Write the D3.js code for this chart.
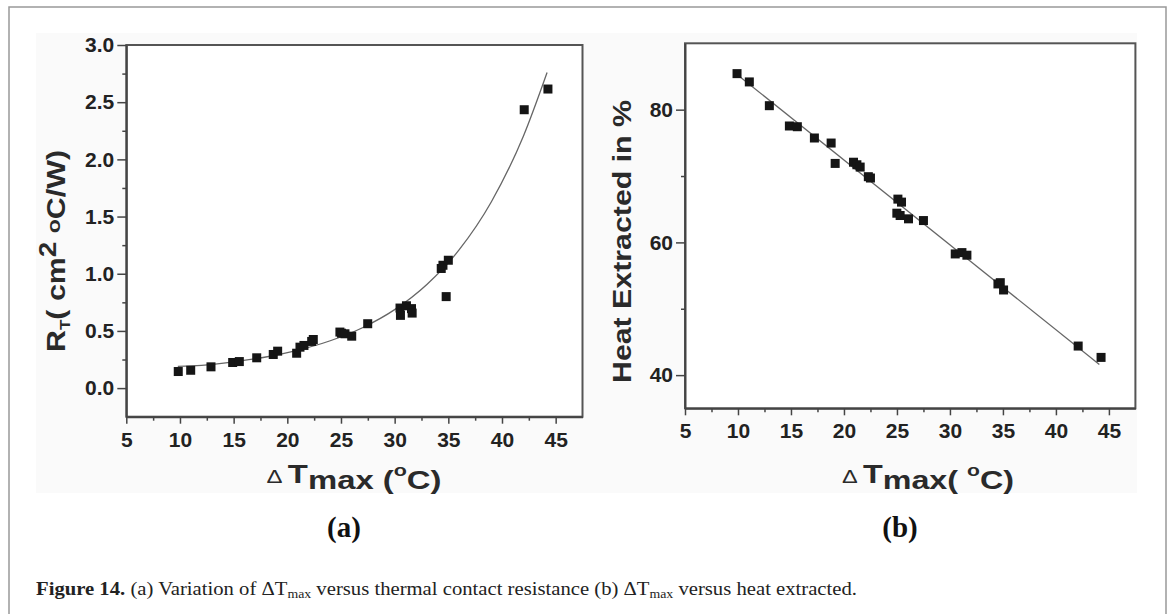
<!DOCTYPE html>
<html>
<head>
<meta charset="utf-8">
<script src="https://cdn.jsdelivr.net/npm/d3@7"></script>
<style>
  body { margin: 0; background: #fff; }
  svg { display: block; }
  .tick text { font-family: "Liberation Sans", Arial, sans-serif; font-weight: bold; font-size: 21px; fill: #222; }
  .domain { stroke: #444; stroke-width: 2; }
  .tick line { stroke: #444; stroke-width: 1.5; }
</style>
</head>
<body>
<svg width="1171" height="614"></svg>
<script>
// (a) thermal contact resistance vs dT max
const dtA = [9.84, 11.0, 12.89, 14.91, 15.53, 17.15, 18.69, 19.1, 20.87, 21.18, 21.55, 22.27, 22.42,
             24.9, 25.05, 25.37, 26.0, 27.49, 30.5, 30.54, 31.1, 31.57, 31.63, 34.34, 34.5, 34.8, 35.0, 42.07, 44.28];
const rtA = [0.145, 0.156, 0.186, 0.224, 0.232, 0.265, 0.294, 0.323, 0.305, 0.358, 0.373, 0.408, 0.425,
             0.49, 0.48, 0.475, 0.454, 0.563, 0.70, 0.636, 0.72, 0.695, 0.656, 1.046, 1.074, 0.80, 1.118, 2.434, 2.615];
// fitted curve
const fitAx = [9.8, 12, 15, 18, 21, 24, 27, 30, 33, 36, 39, 42, 44.2];
const fitAy = [0.19, 0.198, 0.229, 0.272, 0.332, 0.414, 0.528, 0.686, 0.906, 1.208, 1.627, 2.205, 2.76];

// (b) heat extracted vs dT max
const dtB = [9.91, 11.07, 12.96, 14.85, 15.6, 17.21, 18.79, 19.17, 20.9, 21.22, 21.53, 22.3, 22.5,
             25.09, 25.43, 24.99, 25.3, 26.09, 27.5, 30.5, 31.13, 31.6, 34.53, 34.75, 35.06, 42.1, 44.26];
const heatB = [85.43, 84.18, 80.6, 77.54, 77.43, 75.73, 74.97, 71.9, 72.08, 71.7, 71.35, 69.9, 69.7,
               66.52, 66.07, 64.4, 64.05, 63.55, 63.29, 58.26, 58.46, 58.07, 53.74, 53.93, 52.83, 44.38, 42.67];
const fitBx = [10.0, 44.1];
const fitBy = [85.2, 41.6];

const xTicks = [5, 10, 15, 20, 25, 30, 35, 40, 45];
const xMinor = [7.5, 12.5, 17.5, 22.5, 27.5, 32.5, 37.5, 42.5];
const yTicksA = [0, 0.5, 1.0, 1.5, 2.0, 2.5, 3.0];
const yMinorA = [0.25, 0.75, 1.25, 1.75, 2.25, 2.75];
const yTicksB = [40, 60, 80];
const yMinorB = [50, 70];

const svg = d3.select("svg");
const sans = "'Liberation Sans', Arial, sans-serif";
const serif = "'Liberation Serif', 'Times New Roman', serif";

// outer figure frame + scanned image background
svg.append("rect").attr("x", 9).attr("y", 7).attr("width", 1157).attr("height", 640)
    .attr("fill", "none").attr("stroke", "#999").attr("stroke-width", 1.5);
svg.append("rect").attr("x", 36).attr("y", 33).attr("width", 1101).attr("height", 460)
    .attr("fill", "#fafafa");

function panel(x, y, yt, ym, ytFmt) {
    const [x0, x1] = x.range();
    const [y0, y1] = y.range();
    const g = svg.append("g");
    g.append("rect").attr("x", x0).attr("y", y1).attr("width", x1 - x0).attr("height", y0 - y1)
        .attr("fill", "#fff").attr("stroke", "#555").attr("stroke-width", 2);

    g.append("g").attr("transform", `translate(0,${y0})`)
        .call(d3.axisBottom(x).tickValues(xMinor).tickSize(4).tickFormat(""))
        .call(a => a.select(".domain").remove());
    g.append("g").attr("transform", `translate(0,${y0})`)
        .call(d3.axisBottom(x).tickValues(xTicks).tickSize(7).tickPadding(8).tickSizeOuter(0));

    g.append("g").attr("transform", `translate(${x0},0)`)
        .call(d3.axisLeft(y).tickValues(ym).tickSize(4).tickFormat(""))
        .call(a => a.select(".domain").remove());
    g.append("g").attr("transform", `translate(${x0},0)`)
        .call(d3.axisLeft(y).tickValues(yt).tickSize(9).tickPadding(3).tickSizeOuter(0).tickFormat(ytFmt));
    return g;
}

function squares(g, x, y, xs, ys) {
    g.selectAll(".pt").data(xs.map((d, i) => [d, ys[i]])).enter()
        .append("rect").attr("class", "pt")
        .attr("x", d => x(d[0]) - 4.5).attr("y", d => y(d[1]) - 4.5)
        .attr("width", 9).attr("height", 9)
        .attr("fill", "#151515");
}

// ---- panel (a)
const xA = d3.scaleLinear().domain([5, 47.5]).range([126.3, 582.5]);
const yA = d3.scaleLinear().domain([-0.25, 3.0]).range([416.7, 45]);
const gA = panel(xA, yA, yTicksA, yMinorA, d3.format(".1f"));
gA.append("path")
    .datum(fitAx.map((d, i) => [d, fitAy[i]]))
    .attr("d", d3.line().x(d => xA(d[0])).y(d => yA(d[1])).curve(d3.curveMonotoneX))
    .attr("fill", "none").attr("stroke", "#666").attr("stroke-width", 1.3);
squares(gA, xA, yA, dtA, rtA);

// ---- panel (b)
const xB = d3.scaleLinear().domain([5, 47.5]).range([685, 1135.4]);
const yB = d3.scaleLinear().domain([35, 90]).range([408.3, 43.3]);
const gB = panel(xB, yB, yTicksB, yMinorB, d3.format("d"));
gB.append("path")
    .datum(fitBx.map((d, i) => [d, fitBy[i]]))
    .attr("d", d3.line().x(d => xB(d[0])).y(d => yB(d[1])))
    .attr("fill", "none").attr("stroke", "#666").attr("stroke-width", 1.3);
squares(gB, xB, yB, dtB, heatB);

// ---- axis titles
function xTitle(cx, mid, len) {
    const t = svg.append("text").attr("x", cx).attr("y", 489)
        .attr("text-anchor", "middle")
        .attr("textLength", len).attr("lengthAdjust", "spacingAndGlyphs")
        .style("font-family", sans).style("font-weight", "bold").style("font-size", "26px").style("fill", "#2a2a2a");
    t.append("tspan").text("\u0394 ").style("font-size", "19px").style("font-weight", "normal").attr("dy", -6);
    t.append("tspan").text("T");
    t.append("tspan").text("max" + mid).attr("dy", 6);
    t.append("tspan").text("o").style("font-size", "17px").attr("dy", -13);
    t.append("tspan").text("C)").attr("dy", 13);
}
xTitle(354, " (", 175);
xTitle(928, "( ", 172);

const yl = svg.append("text")
    .attr("transform", "translate(65,251) rotate(-90)")
    .attr("text-anchor", "middle")
    .attr("textLength", 202).attr("lengthAdjust", "spacingAndGlyphs")
    .style("font-family", sans).style("font-weight", "bold").style("font-size", "25px").style("fill", "#2a2a2a");
yl.append("tspan").text("R");
yl.append("tspan").text("T").style("font-size", "14px").attr("dy", 5);
yl.append("tspan").text("( cm").attr("dy", -5);
yl.append("tspan").text("2").style("font-size", "23px").attr("dy", -9);
yl.append("tspan").text(" ").attr("dy", 9);
yl.append("tspan").text("o").style("font-size", "19px").attr("dy", -5);
yl.append("tspan").text("C/W)").attr("dy", 5);

svg.append("text")
    .attr("transform", "translate(631,241.5) rotate(-90)")
    .attr("text-anchor", "middle")
    .attr("textLength", 283).attr("lengthAdjust", "spacingAndGlyphs")
    .style("font-family", sans).style("font-weight", "bold").style("font-size", "26px").style("fill", "#2a2a2a")
    .text("Heat Extracted in %");

// ---- panel letters
[["(a)", 344], ["(b)", 900]].forEach(([s, cx]) => {
    svg.append("text").attr("x", cx).attr("y", 537).attr("text-anchor", "middle")
        .style("font-family", serif).style("font-weight", "bold").style("font-size", "29px").style("fill", "#111")
        .text(s);
});

// ---- caption
const cap = svg.append("text").attr("x", 36).attr("y", 595)
    .attr("textLength", 821).attr("lengthAdjust", "spacingAndGlyphs")
    .style("font-family", serif).style("font-size", "18px").style("fill", "#222");
cap.append("tspan").text("Figure 14.").style("font-weight", "bold");
cap.append("tspan").text(" (a) Variation of \u0394T");
cap.append("tspan").text("max").style("font-size", "12px").attr("dy", 3);
cap.append("tspan").text(" versus thermal contact resistance (b) \u0394T").attr("dy", -3);
cap.append("tspan").text("max").style("font-size", "12px").attr("dy", 3);
cap.append("tspan").text(" versus heat extracted.").attr("dy", -3);
</script>
</body>
</html>
